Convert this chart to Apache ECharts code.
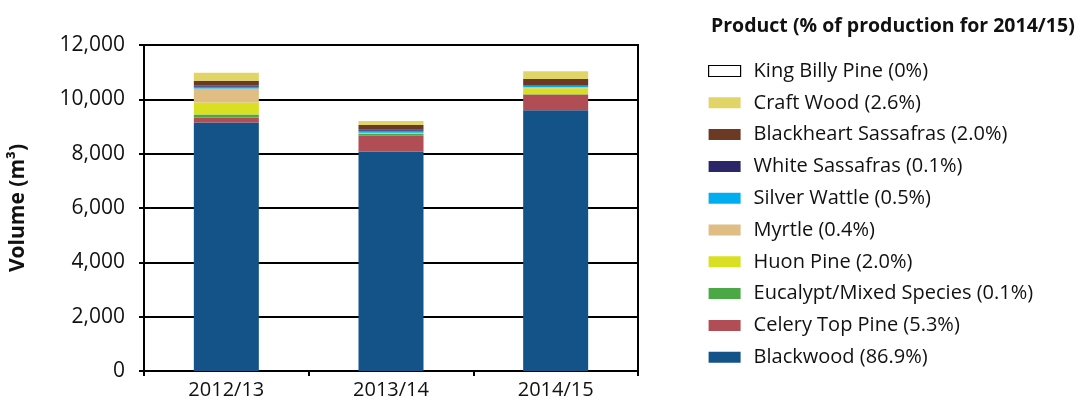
<!DOCTYPE html>
<html>
<head>
<meta charset="utf-8">
<script src="https://cdn.jsdelivr.net/npm/echarts@6/dist/echarts.min.js"></script>
<style>
  html, body { margin: 0; padding: 0; background: #fff; }
  #chart { width: 1083px; height: 408px; }
</style>
</head>
<body>
<div id="chart"></div>
<script>
// Special timber production by product, stacked by year (m³)
const years = ['2012/13', '2013/14', '2014/15'];

const blackwood       = [9150, 8080, 9600];
const celeryTopPine   = [185, 580, 575];
const eucalyptMixed   = [110, 80, 15];
const huonPine        = [440, 30, 220];
const myrtle          = [515, 0, 45];
const silverWattle    = [60, 70, 55];
const whiteSassafras  = [50, 40, 15];
const blackheart      = [175, 175, 220];
const craftWood       = [295, 150, 290];
const kingBillyPine   = [0, 0, 0];

const yTicks = [0, 2000, 4000, 6000, 8000, 10000, 12000];

const products = [
  { name: 'Blackwood (86.9%)',               data: blackwood,      color: '#135388' },
  { name: 'Celery Top Pine (5.3%)',          data: celeryTopPine,  color: '#b04d55' },
  { name: 'Eucalypt/Mixed Species (0.1%)',   data: eucalyptMixed,  color: '#4aa944' },
  { name: 'Huon Pine (2.0%)',                data: huonPine,       color: '#d9e021' },
  { name: 'Myrtle (0.4%)',                   data: myrtle,         color: '#dfbd83' },
  { name: 'Silver Wattle (0.5%)',            data: silverWattle,   color: '#00aeef' },
  { name: 'White Sassafras (0.1%)',          data: whiteSassafras, color: '#2b2668' },
  { name: 'Blackheart Sassafras (2.0%)',     data: blackheart,     color: '#6b3a24' },
  { name: 'Craft Wood (2.6%)',               data: craftWood,      color: '#e2d567' },
  { name: 'King Billy Pine (0%)',            data: kingBillyPine,  color: '#ffffff' }
];

const FONT = '"Open Sans", "Noto Sans", sans-serif';

const chart = echarts.init(document.getElementById('chart'), null, { renderer: 'canvas' });

const series = products.map(p => ({
  name: p.name,
  type: 'bar',
  stack: 'total',
  barWidth: 65,
  data: p.data,
  itemStyle: { color: p.color },
  emphasis: { disabled: true }
}));

// Legend lists the products top-down in reverse stacking order
const legendData = products.slice().reverse().map(p => {
  const item = { name: p.name };
  if (p.color === '#ffffff') {
    item.itemStyle = { color: '#ffffff', borderColor: '#000', borderWidth: 1.2 };
  }
  return item;
});

chart.setOption({
  animation: false,
  textStyle: { fontFamily: FONT },
  grid: { left: 144, right: 445, top: 45, bottom: 37, show: true, borderColor: '#000', borderWidth: 2 },
  title: {
    text: 'Product (% of production for 2014/15)',
    left: 706, top: 11,
    textStyle: { fontFamily: FONT, fontSize: 19.5, fontWeight: 'bold', color: '#111' }
  },
  legend: {
    orient: 'vertical',
    left: 703, top: 56,
    icon: 'rect',
    itemWidth: 32, itemHeight: 11,
    itemGap: 11.8,
    selectedMode: false,
    data: legendData,
    textStyle: { fontFamily: FONT, fontSize: 20, color: '#111', padding: [0, 0, 0, 8], lineHeight: 20 }
  },
  xAxis: {
    type: 'category',
    data: years,
    axisLine: { lineStyle: { color: '#000', width: 2 } },
    axisTick: { show: true, length: 5, lineStyle: { color: '#000', width: 2 } },
    axisLabel: { fontFamily: FONT, fontSize: 20, color: '#111', margin: 9 }
  },
  yAxis: {
    type: 'value',
    min: yTicks[0],
    max: yTicks[yTicks.length - 1],
    interval: 2000,
    name: 'Volume (m³)',
    nameLocation: 'middle',
    nameGap: 115,
    nameTextStyle: { fontFamily: FONT, fontSize: 21, fontWeight: 'bold', color: '#111' },
    axisLine: { show: true, lineStyle: { color: '#000', width: 2 } },
    axisTick: { show: true, inside: false, length: 5, lineStyle: { color: '#000', width: 2 } },
    axisLabel: {
      fontFamily: FONT, fontSize: 21, color: '#111', margin: 19,
      formatter: v => v.toLocaleString('en-US')
    },
    splitLine: { show: true, lineStyle: { color: '#000', width: 2 } }
  },
  series: series
});
</script>
</body>
</html>
